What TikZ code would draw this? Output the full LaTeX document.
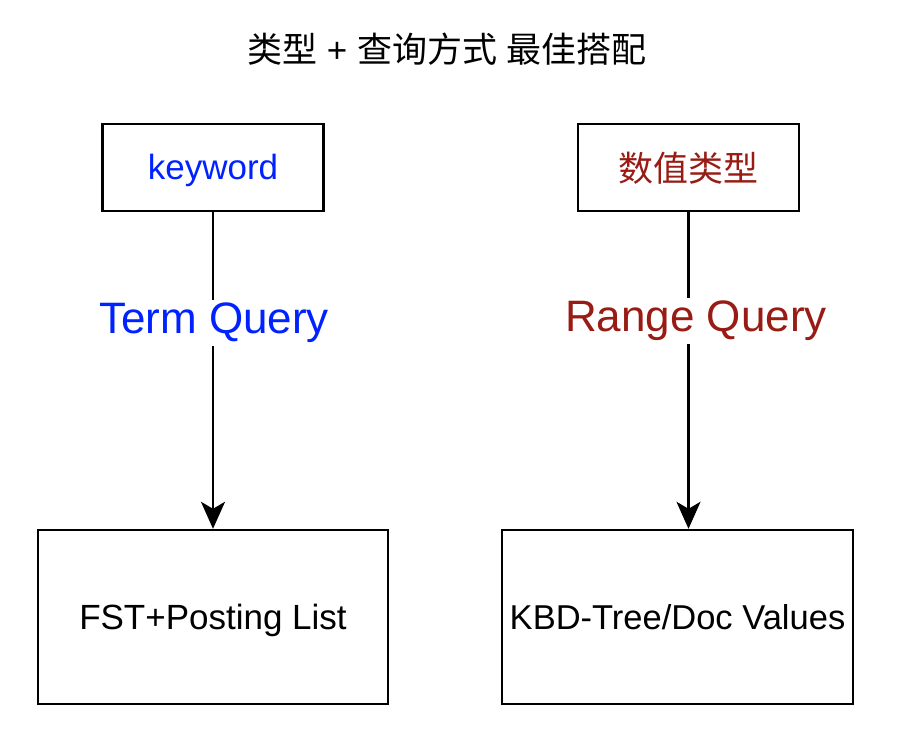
\documentclass[tikz,border=0pt]{standalone}
\usepackage{fontspec}
\setmainfont{Liberation Sans}
\newfontfamily\cjk{Noto Sans CJK SC}
\usetikzlibrary{arrows.meta}
\definecolor{qblue}{RGB}{0,34,255}
\definecolor{qred}{RGB}{152,28,20}
\begin{document}
\begin{tikzpicture}[x=1pt,y=-1pt,
  box/.style={draw=black,line width=2.4pt,rectangle,inner sep=0pt,fill=white,align=center,text depth=1pt},
  lbl/.style={fill=white,inner sep=3pt},
  conn/.style={line width=2.2pt,-{Stealth[length=27pt,width=24pt,inset=7pt]}}]
\useasboundingbox (0,0) rectangle (924,752);
\node (title) at (447,49) {\fontsize{35}{42}\selectfont{\cjk 类型} + {\cjk 查询方式} {\cjk 最佳搭配}};
\node[box,minimum width=221pt,minimum height=87pt,text=qblue,font=\fontsize{35}{42}\selectfont] (kw) at (213,167.5) {keyword};
\node[box,minimum width=221pt,minimum height=87pt,text=qred,font=\cjk\fontsize{35}{42}\selectfont] (num) at (688.5,167.5) {数值类型};
\node[box,minimum width=350pt,minimum height=174pt,font=\fontsize{35}{42}\selectfont] (fst) at (213,617) {FST+Posting List};
\node[box,minimum width=351pt,minimum height=174pt,font=\fontsize{34.5}{42}\selectfont] (kbd) at (677.5,617) {KBD-Tree/Doc Values};
\coordinate (kbdtop) at (num.south |- kbd.north);
\draw[conn] (kw.south) -- (fst.north);
\draw[conn] (num.south) -- (kbdtop);
\node[lbl,text=qblue,font=\fontsize{44}{50}\selectfont] (tq) at (214,323) {Term Query};
\node[lbl,text=qred,font=\fontsize{44}{50}\selectfont] (rq) at (696,321) {Range Query};
\end{tikzpicture}
\end{document}
